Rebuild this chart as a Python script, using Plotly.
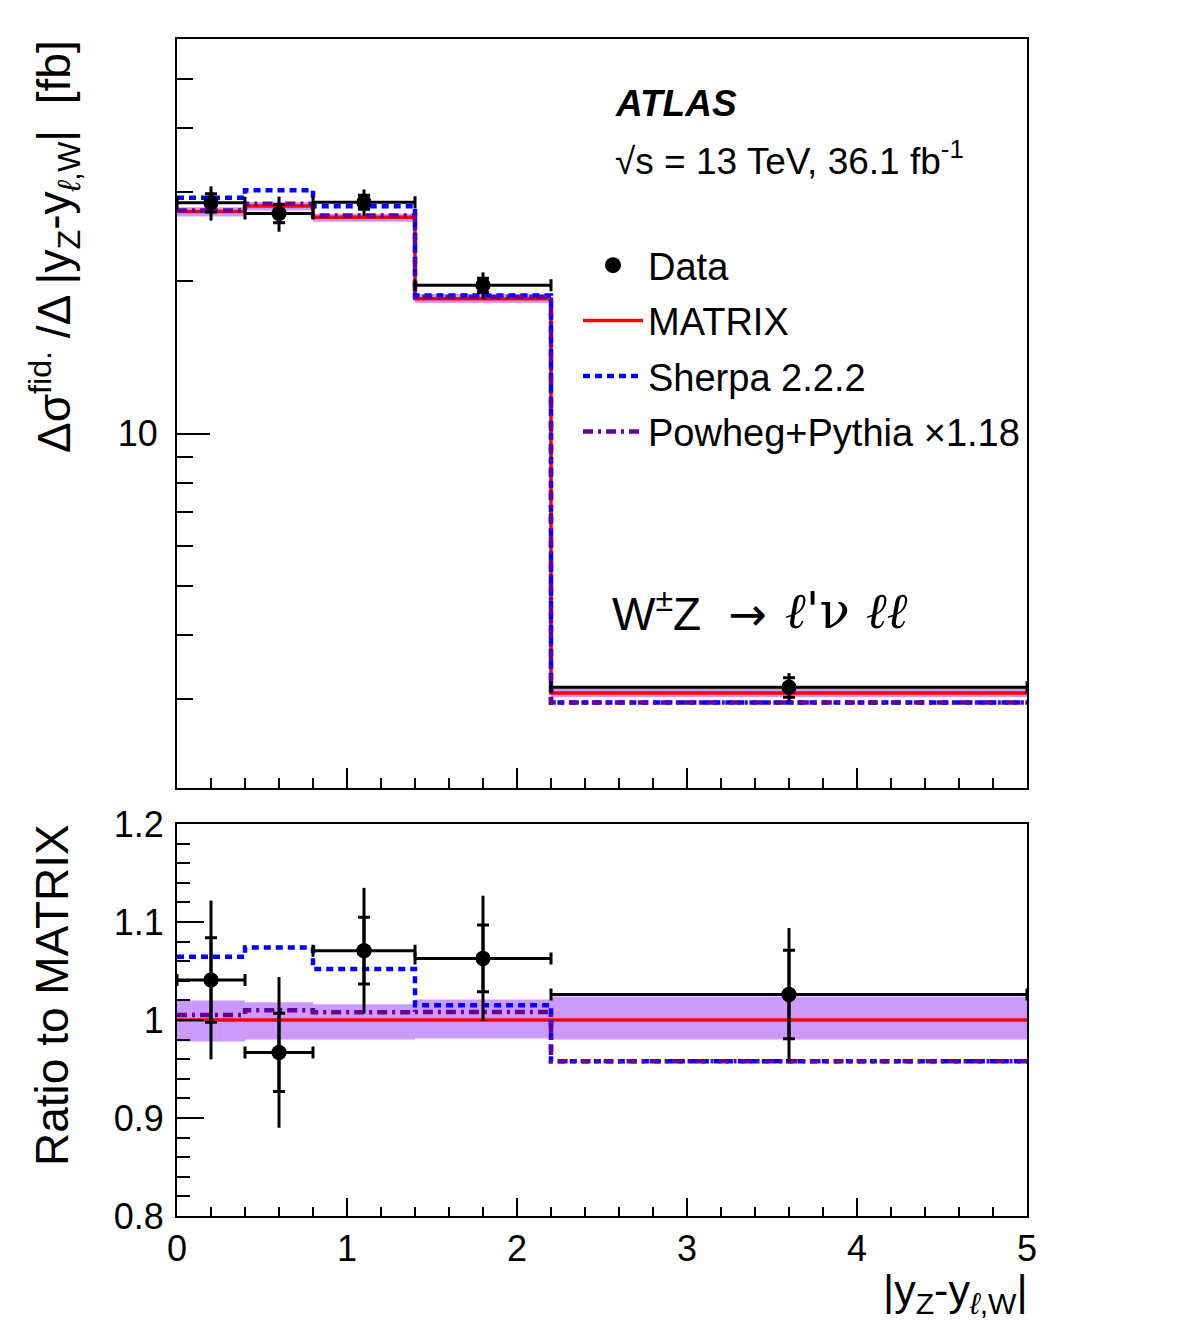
import plotly.graph_objects as go

# ---------------- data ----------------
bin_edges = [0.0, 0.4, 0.8, 1.4, 2.2, 5.0]
bin_centers = [0.2, 0.6, 1.1, 1.8, 3.6]
bin_halfwidth = [0.2, 0.2, 0.3, 0.4, 1.4]

matrix = [27.4, 28.1, 26.7, 18.45, 3.08]           # fb
matrix_rel_up = [0.020, 0.018, 0.016, 0.021, 0.024]
matrix_rel_dn = [0.022, 0.020, 0.020, 0.019, 0.020]
sherpa = [29.17, 30.18, 28.09, 18.73, 2.95]
powheg = [27.54, 28.38, 26.91, 18.60, 2.95]         # x1.18 applied

data = [28.52, 27.17, 28.59, 19.61, 3.16]
data_stat = [1.18, 1.12, 0.91, 0.63, 0.139]
data_tot = [2.22, 2.16, 1.71, 1.18, 0.209]

y_top_ticks = [10]
y_top_minor = [2, 3, 4, 5, 6, 7, 8, 9, 20, 30, 40, 50, 60]
ratio_ticks = [0.8, 0.9, 1.0, 1.1, 1.2]
ratio_ticklabels = ["0.8", "0.9", "1", "1.1", "1.2"]
x_ticks = [0, 1, 2, 3, 4, 5]

# ---------------- styles ----------------
RED = "#ff0000"
BLUE = "#0000ff"
PURPLE = "#660099"
BAND = "#cc99ff"
FONT = "Liberation Sans"
W, H = 1182, 1332


def step(vals):
    return list(vals) + [vals[-1]]


ratio_matrix = [m / m for m in matrix]
ratio_sherpa = [s / m for s, m in zip(sherpa, matrix)]
ratio_powheg = [p / m for p, m in zip(powheg, matrix)]
ratio_data = [d / m for d, m in zip(data, matrix)]
ratio_stat = [e / m for e, m in zip(data_stat, matrix)]
ratio_tot = [e / m for e, m in zip(data_tot, matrix)]

fig = go.Figure()


def add_panel(xa, ya, mat, up, dn, sh, pw, dt, est, etot, legend):
    # MATRIX uncertainty band
    fig.add_trace(go.Scatter(x=bin_edges, y=step(dn), mode="lines", line_shape="hv",
                             line=dict(width=0, color=BAND), xaxis=xa, yaxis=ya,
                             showlegend=False, hoverinfo="skip"))
    fig.add_trace(go.Scatter(x=bin_edges, y=step(up), mode="lines", line_shape="hv",
                             line=dict(width=0, color=BAND), fill="tonexty", fillcolor=BAND,
                             xaxis=xa, yaxis=ya, showlegend=False, hoverinfo="skip"))
    fig.add_trace(go.Scatter(x=bin_edges, y=step(mat), mode="lines", line_shape="hv",
                             line=dict(width=3.5, color=RED), xaxis=xa, yaxis=ya,
                             name="MATRIX", showlegend=legend, legendrank=2, legendgroup="b"))
    fig.add_trace(go.Scatter(x=bin_edges, y=step(sh), mode="lines", line_shape="hv",
                             line=dict(width=4.5, color=BLUE, dash="7px,5px"), xaxis=xa, yaxis=ya,
                             name="Sherpa 2.2.2", showlegend=legend, legendrank=3, legendgroup="c"))
    fig.add_trace(go.Scatter(x=bin_edges, y=step(pw), mode="lines", line_shape="hv",
                             line=dict(width=4.5, color=PURPLE, dash="10px,5px,3px,5px"),
                             xaxis=xa, yaxis=ya, legendgroup="d",
                             name="Powheg+Pythia \u00d71.18", showlegend=legend, legendrank=4))
    # data: total uncertainty + bin width
    fig.add_trace(go.Scatter(x=bin_centers, y=dt, mode="markers",
                             marker=dict(color="black", size=15),
                             error_x=dict(type="data", array=bin_halfwidth, color="black",
                                          thickness=3, width=6),
                             error_y=dict(type="data", array=etot, color="black",
                                          thickness=3, width=0),
                             cliponaxis=False, xaxis=xa, yaxis=ya, showlegend=False))
    # data: statistical uncertainty ticks
    fig.add_trace(go.Scatter(x=bin_centers, y=dt, mode="markers",
                             marker=dict(color="black", size=15),
                             error_y=dict(type="data", array=est, color="black",
                                          thickness=3, width=6),
                             cliponaxis=False, xaxis=xa, yaxis=ya, showlegend=False))


add_panel("x", "y", matrix,
          [m * (1 + u) for m, u in zip(matrix, matrix_rel_up)],
          [m * (1 - d) for m, d in zip(matrix, matrix_rel_dn)],
          sherpa, powheg, data, data_stat, data_tot, True)
add_panel("x2", "y2", ratio_matrix,
          [1 + u for u in matrix_rel_up],
          [1 - d for d in matrix_rel_dn],
          ratio_sherpa, ratio_powheg, ratio_data, ratio_stat, ratio_tot, False)

# legend entry for data
fig.add_trace(go.Scatter(x=[None], y=[None], mode="markers", marker=dict(color="black", size=18),
                         name="Data", showlegend=True, legendrank=1, legendgroup="a"))

x0, x1 = 177 / W, 1027 / W
axis_common = dict(showline=True, linecolor="black", linewidth=2, mirror=True,
                   ticks="inside", tickcolor="black", tickwidth=2, showgrid=False,
                   zeroline=False, automargin=False,
                   tickfont=dict(family=FONT, size=36, color="black"))

fig.update_layout(
    width=W, height=H, margin=dict(l=0, r=0, t=0, b=0, autoexpand=False),
    paper_bgcolor="white", plot_bgcolor="white",
    font=dict(family=FONT, color="black"),
    xaxis=dict(domain=[x0, x1], range=[0, 5], tickvals=x_ticks, ticklen=20,
               showticklabels=False, anchor="y",
               minor=dict(dtick=0.2, ticklen=10, ticks="inside", tickcolor="black", tickwidth=2),
               **axis_common),
    yaxis=dict(domain=[1 - 788 / H, 1 - 39 / H], type="log", range=[0.30103, 1.778151],
               tickvals=y_top_ticks, ticktext=["10"], ticklen=33, anchor="x",
               ticklabelstandoff=10,
               minor=dict(tickvals=y_top_minor, ticklen=16, ticks="inside", tickcolor="black",
                          tickwidth=2),
               **axis_common),
    xaxis2=dict(domain=[x0, x1], range=[0, 5], tickvals=x_ticks, ticklen=18, anchor="y2",
                ticklabelstandoff=0,
                minor=dict(dtick=0.2, ticklen=9, ticks="inside", tickcolor="black", tickwidth=2),
                **axis_common),
    yaxis2=dict(domain=[1 - 1216 / H, 1 - 824 / H], range=[0.8, 1.2], tickvals=ratio_ticks,
                ticktext=ratio_ticklabels, ticklen=27, anchor="x2", ticklabelstandoff=4,
                minor=dict(dtick=0.02, tick0=0.8, ticklen=13, ticks="inside", tickcolor="black",
                           tickwidth=2),
                **axis_common),
    legend=dict(x=578 / W, y=1 - 234 / H, xanchor="left", yanchor="top",
                font=dict(family=FONT, size=38, color="black"), bgcolor="rgba(0,0,0,0)",
                itemwidth=60, traceorder="grouped", tracegroupgap=3),
    showlegend=True,
)

ann = [
    dict(x=613 / W, y=1 - 103 / H, text="<b><i>ATLAS</i></b>", font=dict(size=37)),
    dict(x=613 / W, y=1 - 158 / H, text="\u221as = 13 TeV, 36.1 fb<sup>-1</sup>", font=dict(size=37)),
    dict(x=610 / W, y=1 - 611 / H,
         text="W<sup>\u00b1</sup>Z <span style='font-family:DejaVu Sans'> \u2192</span>",
         font=dict(size=46)),
    dict(x=783 / W, y=1 - 611 / H,
         text="<i>\u2113</i>'\u03bd <i>\u2113</i><i>\u2113</i>",
         font=dict(size=50)),
]
for i, a in enumerate(ann):
    a.update(xref="paper", yref="paper", xanchor="left", yanchor="middle", showarrow=False)
    a["font"].update(family="DejaVu Serif" if i == 3 else FONT, color="black")
    fig.add_annotation(**a)

fig.add_annotation(x=54 / W, y=1 - 247 / H, xref="paper", yref="paper", textangle=-90,
                   text="\u0394\u03c3<sup>fid.</sup> /\u0394 |y<sub>Z</sub>-y<sub><i>\u2113</i>,W</sub>|  [fb]",
                   font=dict(family=FONT, size=46, color="black"), showarrow=False,
                   xanchor="center", yanchor="middle")
fig.add_annotation(x=52 / W, y=1 - 995 / H, xref="paper", yref="paper", textangle=-90,
                   text="Ratio to MATRIX", font=dict(family=FONT, size=46, color="black"),
                   showarrow=False, xanchor="center", yanchor="middle")
fig.add_annotation(x=1030 / W, y=1 - 1293 / H, xref="paper", yref="paper",
                   text="|y<sub>Z</sub>-y<sub><i>\u2113</i>,W</sub>|",
                   font=dict(family=FONT, size=43, color="black"), showarrow=False,
                   xanchor="right", yanchor="middle")

fig.write_html("out.html")
